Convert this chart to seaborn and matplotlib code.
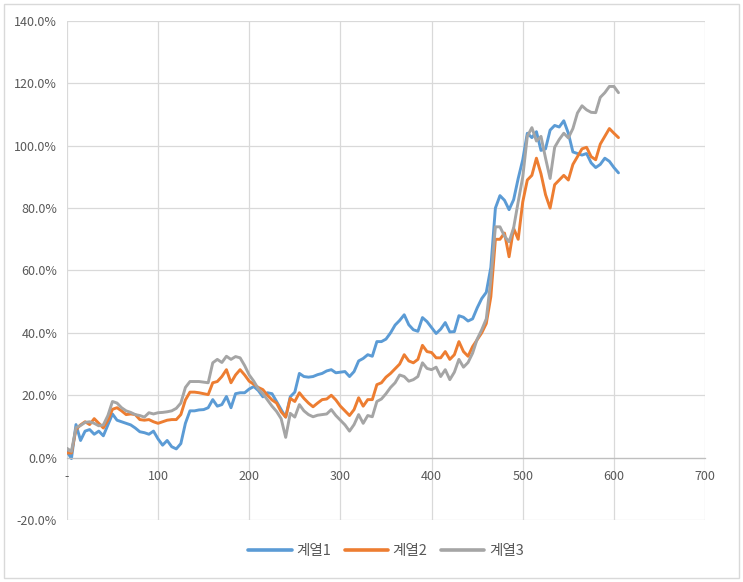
import numpy as np
import pandas as pd
import matplotlib
matplotlib.use("Agg")
import matplotlib.pyplot as plt
import seaborn as sns
from matplotlib.patches import Rectangle
from matplotlib.ticker import FuncFormatter

# x positions (every 5 steps)
x_vals = list(range(0, 610, 5))

series1 = [2.0, -0.3, 10.6, 5.5, 8.5, 9.0, 7.5, 8.5, 7.0, 10.5,
           14.0, 12.0, 11.5, 11.0, 10.5, 9.5, 8.3, 8.0, 7.5, 8.5,
           6.0, 4.0, 5.5, 3.5, 2.8, 4.5, 11.0, 15.0, 15.0, 15.3,
           15.4, 16.0, 18.6, 16.5, 17.0, 19.6, 16.0, 20.5, 20.8, 20.8,
           22.0, 22.8, 21.5, 19.5, 20.8, 20.5, 18.0, 15.4, 13.0, 19.5,
           21.0, 27.0, 26.0, 25.8, 26.0, 26.6, 27.0, 27.8, 28.2, 27.2,
           27.4, 27.6, 26.0, 27.6, 31.0, 31.8, 33.0, 32.5, 37.2, 37.2,
           38.0, 40.0, 42.5, 44.0, 45.8, 42.6, 41.0, 40.5, 44.9, 43.6,
           41.7, 39.8, 41.2, 43.3, 40.3, 40.4, 45.5, 45.0, 43.8, 44.5,
           48.0, 51.0, 53.0, 61.0, 80.0, 84.0, 82.5, 79.5, 82.7, 89.5,
           95.5, 104.0, 102.6, 104.5, 98.5, 99.0, 105.0, 106.5, 106.0, 108.0,
           104.0, 98.0, 97.5, 97.0, 97.5, 94.5, 93.0, 94.0, 96.0, 95.0,
           93.0, 91.3]

series2 = [1.5, 1.5, 9.0, 10.5, 11.5, 10.6, 12.5, 11.0, 9.5, 12.0,
           15.5, 16.0, 15.0, 13.8, 14.0, 13.8, 12.2, 12.0, 12.2, 11.5,
           11.0, 11.5, 12.0, 12.2, 12.2, 13.8, 18.5, 21.0, 21.0, 20.8,
           20.5, 20.2, 24.0, 24.4, 26.0, 28.2, 24.0, 26.5, 28.2, 26.5,
           24.5, 23.5, 22.5, 21.8, 20.0, 18.5, 17.5, 14.7, 13.0, 19.0,
           18.0, 20.8, 19.0, 17.5, 16.3, 17.5, 18.6, 18.8, 20.0, 18.5,
           16.5, 15.0, 13.5, 15.4, 19.2, 16.5, 18.6, 18.6, 23.4, 24.0,
           25.8, 27.0, 28.5, 30.0, 33.0, 31.0, 30.4, 31.5, 36.0, 34.0,
           33.7, 32.0, 32.0, 34.0, 31.5, 33.0, 37.2, 34.0, 32.5, 35.6,
           37.8, 40.0, 43.0, 51.6, 70.0, 70.0, 72.0, 64.4, 73.5, 70.0,
           82.0, 89.0, 90.5, 96.0, 91.0, 84.3, 80.0, 87.5, 89.0, 90.5,
           89.0, 94.0, 96.5, 99.0, 99.5, 96.5, 95.5, 100.5, 103.0, 105.5,
           104.0, 102.6]

series3 = [3.0, 2.0, 9.6, 10.3, 11.3, 11.5, 11.0, 10.2, 10.5, 13.5,
           18.0, 17.5, 16.0, 15.0, 14.5, 13.8, 13.5, 13.0, 14.4, 14.0,
           14.4, 14.5, 14.7, 15.0, 15.8, 17.5, 22.5, 24.4, 24.4, 24.4,
           24.2, 24.0, 30.4, 31.5, 30.5, 32.5, 31.5, 32.4, 32.0, 29.5,
           26.5, 24.5, 22.0, 20.5, 18.5, 16.5, 14.8, 12.5, 6.5, 14.2,
           13.0, 17.0, 15.0, 13.8, 13.1, 13.6, 13.8, 14.0, 15.4, 13.5,
           12.0, 10.5, 8.5, 10.6, 13.8, 11.0, 13.5, 13.1, 18.0, 18.8,
           20.5, 22.5, 24.0, 26.5, 26.0, 24.5, 25.0, 26.0, 30.4, 28.6,
           28.2, 29.0, 26.0, 28.2, 25.0, 27.4, 31.5, 29.0, 30.5, 33.5,
           38.0, 41.0, 44.5, 57.0, 74.0, 74.0, 71.0, 69.2, 73.7, 82.0,
           90.0, 103.0, 105.8, 101.5, 103.0, 96.0, 89.5, 99.5, 102.0, 104.0,
           102.5, 105.5, 110.5, 112.8, 111.5, 110.7, 110.6, 115.5, 117.0, 119.0,
           119.0, 117.0]

series_names = ["계열1", "계열2", "계열3"]
colors = ["#5B9BD5", "#ED7D31", "#A5A5A5"]

y_ticks = [-20, 0, 20, 40, 60, 80, 100, 120, 140]
x_ticks = [0, 100, 200, 300, 400, 500, 600, 700]

df = pd.DataFrame({
    "x": x_vals * 3,
    "y": series1 + series2 + series3,
    "series": [series_names[0]] * len(x_vals)
              + [series_names[1]] * len(x_vals)
              + [series_names[2]] * len(x_vals),
})

sns.set_theme(style="white")
plt.rcParams["font.family"] = ["Noto Sans CJK KR", "DejaVu Sans"]

fig = plt.figure(figsize=(7.43, 5.82), dpi=100)
ax = fig.add_axes([0.090, 0.1065, 0.859, 0.8575])

sns.lineplot(data=df, x="x", y="y", hue="series", palette=colors,
             linewidth=2.1, ax=ax, legend=True, estimator=None)

ax.set_xlim(0, 700)
ax.set_ylim(-20, 140)
ax.set_xticks(x_ticks)
ax.set_yticks(y_ticks)
ax.xaxis.set_major_formatter(FuncFormatter(lambda v, p: "-" if v == 0 else f"{int(v)}"))
ax.yaxis.set_major_formatter(FuncFormatter(lambda v, p: f"{v:.1f}%"))
ax.grid(True, color="#D9D9D9", linewidth=0.9)
ax.set_axisbelow(True)
ax.set_xlabel("")
ax.set_ylabel("")

for side in ["top", "right", "left"]:
    ax.spines[side].set_visible(False)
ax.spines["bottom"].set_position(("data", 0))
ax.spines["bottom"].set_color("#BFBFBF")
ax.spines["bottom"].set_linewidth(0.9)
ax.tick_params(axis="both", length=0, labelsize=9, colors="#595959")
ax.tick_params(axis="x", pad=9)
ax.tick_params(axis="y", pad=7)

leg = ax.legend(loc="center", bbox_to_anchor=(0.5, -0.062), ncol=3,
                frameon=False, fontsize=10.5, handlelength=3.0,
                columnspacing=0.9, handletextpad=0.3)
for t in leg.get_texts():
    t.set_color("#595959")
for h in leg.get_lines():
    h.set_linewidth(2.6)

fig.patches.append(Rectangle((0.006, 0.007), 0.988, 0.986, transform=fig.transFigure,
                             fill=False, edgecolor="#D9D9D9", linewidth=1))

fig.savefig("out.png", dpi=100)
